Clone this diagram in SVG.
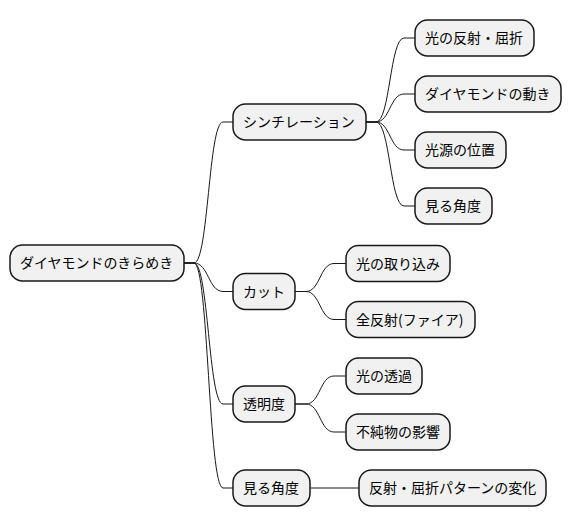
<svg xmlns="http://www.w3.org/2000/svg" width="572" height="527" viewBox="0 0 572 527">
<style>
.n rect{fill:#F1F1F1;stroke:#181818;stroke-width:1.5}
.n text{font-family:"Noto Sans CJK JP","Noto Sans",sans-serif;font-size:14px;fill:#000}
#links path{fill:none;stroke:#181818;stroke-width:1}
</style>
<rect width="572" height="527" fill="#FFFFFF"/>
<g id="links">
<path d="M184,263 L194,263 C208.5,263 208.5,122 223,122 L233,122"/>
<path d="M184,263 L194,263 C208.5,263 208.5,291.5 223,291.5 L233,291.5"/>
<path d="M184,263 L194,263 C208.5,263 208.5,404 223,404 L233,404"/>
<path d="M184,263 L194,263 C208.5,263 208.5,488 223,488 L233,488"/>
<path d="M366,122 L376,122 C390,122 390,38 404,38 L415,38"/>
<path d="M366,122 L376,122 C390,122 390,94 404,94 L415,94"/>
<path d="M366,122 L376,122 C390,122 390,150 404,150 L415,150"/>
<path d="M366,122 L376,122 C390,122 390,206 404,206 L415,206"/>
<path d="M295,291.5 L306,291.5 C320,291.5 320,263.5 334,263.5 L346,263.5"/>
<path d="M295,291.5 L306,291.5 C320,291.5 320,319.5 334,319.5 L346,319.5"/>
<path d="M295,404 L306,404 C320,404 320,376 334,376 L346,376"/>
<path d="M295,404 L306,404 C320,404 320,432 334,432 L346,432"/>
<path d="M310,488 L359,488"/>
</g>
<g id="root" class="n"><rect x="10" y="245" width="174" height="36" rx="12.5"/><text x="20" y="268">ダイヤモンドのきらめき</text></g>
<g id="scintillation" class="n"><rect x="233" y="104" width="133" height="36" rx="12.5"/><text x="243" y="127">シンチレーション</text></g>
<g id="reflect" class="n"><rect x="415" y="20" width="119" height="36" rx="12.5"/><text x="425" y="43">光の反射・屈折</text></g>
<g id="movement" class="n"><rect x="415" y="76" width="146" height="36" rx="12.5"/><text x="425" y="99">ダイヤモンドの動き</text></g>
<g id="lightsource" class="n"><rect x="415" y="132" width="91" height="36" rx="12.5"/><text x="425" y="155">光源の位置</text></g>
<g id="angle1" class="n"><rect x="415" y="188" width="77" height="36" rx="12.5"/><text x="425" y="211">見る角度</text></g>
<g id="cut" class="n"><rect x="233" y="273.5" width="62" height="36" rx="12.5"/><text x="243" y="296.5">カット</text></g>
<g id="intake" class="n"><rect x="346" y="245.5" width="104" height="36" rx="12.5"/><text x="356" y="268.5">光の取り込み</text></g>
<g id="fire" class="n"><rect x="346" y="301.5" width="129" height="36" rx="12.5"/><text x="356" y="324.5">全反射(ファイア)</text></g>
<g id="clarity" class="n"><rect x="233" y="386" width="62" height="36" rx="12.5"/><text x="243" y="409">透明度</text></g>
<g id="transmit" class="n"><rect x="346" y="358" width="76" height="36" rx="12.5"/><text x="356" y="381">光の透過</text></g>
<g id="impurity" class="n"><rect x="346" y="414" width="104" height="36" rx="12.5"/><text x="356" y="437">不純物の影響</text></g>
<g id="angle2" class="n"><rect x="233" y="470" width="77" height="36" rx="12.5"/><text x="243" y="493">見る角度</text></g>
<g id="pattern" class="n"><rect x="359" y="470" width="187" height="36" rx="12.5"/><text x="369" y="493">反射・屈折パターンの変化</text></g>
</svg>
